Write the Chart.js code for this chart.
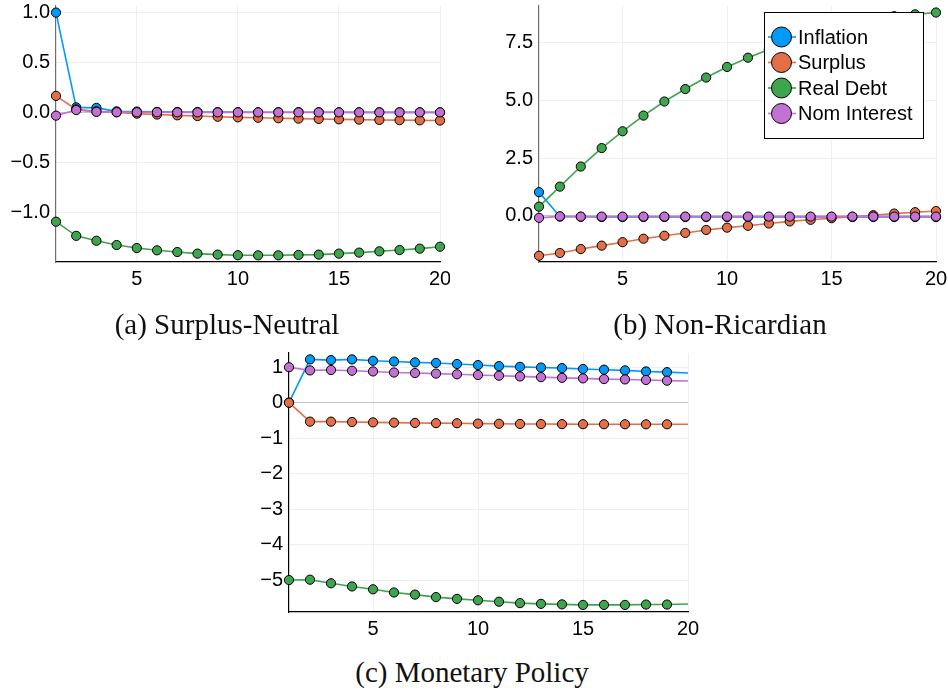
<!DOCTYPE html>
<html>
<head>
<meta charset="utf-8">
<script src="https://cdn.jsdelivr.net/npm/chart.js@4.4.0/dist/chart.umd.min.js"></script>
<style>
  body { margin: 0; background: #fff; }
  #wrap { position: relative; width: 948px; height: 690px; overflow: hidden; }
  canvas { position: absolute; }
  .cap { position: absolute; font-family: "Liberation Serif", serif; font-size: 29px;
         line-height: 29px; text-align: center; color: #111; white-space: nowrap; }
</style>
</head>
<body>
<div id="wrap">
  <canvas id="chartA" width="450" height="300" style="left:0;top:0"></canvas>
  <canvas id="chartB" width="468" height="300" style="left:480px;top:0"></canvas>
  <canvas id="chartC" width="460" height="300" style="left:240px;top:340px"></canvas>
  <div class="cap" style="left:27px;top:310px;width:400px">(a) Surplus-Neutral</div>
  <div class="cap" style="left:520px;top:310px;width:400px">(b) Non-Ricardian</div>
  <div class="cap" style="left:272px;top:658px;width:400px">(c) Monetary Policy</div>
</div>
<script>
const periods = [1, 2, 3, 4, 5, 6, 7, 8, 9, 10, 11, 12, 13, 14, 15, 16, 17, 18, 19, 20];
const seriesNames = ['Inflation', 'Surplus', 'Real Debt', 'Nom Interest'];
const xTicks = [5, 10, 15, 20];

// (a) Surplus-Neutral
const inflationA = [1.0, 0.05, 0.045, 0.01, 0.008, 0.005, 0.004, 0.003, 0.002, 0.002, 0.001, 0.001, 0.001, 0.001, 0.001, 0.0, 0.0, 0.0, 0.0, 0.0];
const surplusA = [0.165, 0.03, 0.01, 0.0, -0.013, -0.022, -0.03, -0.037, -0.044, -0.05, -0.054, -0.059, -0.063, -0.066, -0.07, -0.073, -0.076, -0.078, -0.08, -0.082];
const debtA = [-1.096, -1.238, -1.287, -1.33, -1.36, -1.383, -1.40, -1.416, -1.426, -1.432, -1.433, -1.433, -1.429, -1.426, -1.416, -1.406, -1.393, -1.38, -1.366, -1.347];
const interestA = [-0.033, 0.023, 0.005, 0.002, 0.001, 0.001, 0.0, 0.0, 0.0, 0.0, 0.0, 0.0, 0.0, 0.0, 0.0, 0.0, 0.0, 0.0, 0.0, 0.0];
const yTicksA = [-1.0, -0.5, 0.0, 0.5, 1.0];

// (b) Non-Ricardian
const inflationB = [1.03, -0.03, -0.04, -0.05, -0.05, -0.05, -0.05, -0.05, -0.05, -0.05, -0.05, -0.05, -0.05, -0.05, -0.05, -0.05, -0.05, -0.05, -0.05, -0.05];
const surplusB = [-1.73, -1.61, -1.44, -1.29, -1.14, -0.99, -0.86, -0.74, -0.61, -0.51, -0.43, -0.33, -0.24, -0.17, -0.10, -0.04, 0.03, 0.10, 0.16, 0.21];
const debtB = [0.40, 1.27, 2.14, 2.94, 3.67, 4.35, 4.96, 5.50, 6.00, 6.46, 6.86, 7.22, 7.55, 7.84, 8.10, 8.33, 8.52, 8.66, 8.74, 8.82];
const interestB = [-0.085, -0.02, -0.03, -0.03, -0.03, -0.03, -0.03, -0.03, -0.03, -0.03, -0.03, -0.03, -0.03, -0.03, -0.03, -0.03, -0.03, -0.03, -0.03, -0.03];
const yTicksB = [0.0, 2.5, 5.0, 7.5];

// (c) Monetary Policy
const inflationC = [0.0, 1.22, 1.20, 1.22, 1.18, 1.16, 1.135, 1.12, 1.09, 1.06, 1.03, 1.01, 0.99, 0.975, 0.95, 0.93, 0.91, 0.88, 0.86, 0.835];
const surplusC = [0.0, -0.535, -0.535, -0.545, -0.555, -0.563, -0.572, -0.577, -0.58, -0.59, -0.595, -0.60, -0.603, -0.605, -0.607, -0.608, -0.609, -0.61, -0.61, -0.61];
const debtC = [-5.0, -4.99, -5.09, -5.18, -5.26, -5.35, -5.41, -5.48, -5.53, -5.57, -5.61, -5.65, -5.67, -5.685, -5.70, -5.70, -5.70, -5.69, -5.69, -5.675];
const interestC = [1.0, 0.91, 0.92, 0.90, 0.88, 0.85, 0.835, 0.82, 0.80, 0.78, 0.76, 0.74, 0.72, 0.70, 0.685, 0.665, 0.655, 0.64, 0.62, 0.61];
const yTicksC = [-5, -4, -3, -2, -1, 0, 1];

const colors = ['#009AFA', '#E36F47', '#3EA44E', '#C371D2'];
const tickFont = { family: 'Liberation Sans', size: 20 };

function minusSign(v, digits) {
    return v.toFixed(digits).replace('-', '\u2212');
}

function makeDatasets(values, markerCount) {
    return values.map((vals, i) => ({
        label: seriesNames[i],
        data: vals,
        borderColor: colors[i],
        backgroundColor: colors[i],
        borderWidth: 1.6,
        tension: 0,
        pointRadius: ctx => ctx.dataIndex < markerCount ? 4.6 : 0,
        pointBackgroundColor: colors[i],
        pointBorderColor: '#000',
        pointBorderWidth: 1,
        order: 4 - i,
        clip: false
    }));
}

// legend drawn inside the plot area, Plots.jl style
const insideLegend = {
    id: 'insideLegend',
    afterDraw(chart, args, opts) {
        if (!opts.show) return;
        const c = chart.ctx;
        const x = opts.left, y = opts.top, w = opts.w, h = opts.h;
        c.save();
        c.fillStyle = '#fff';
        c.fillRect(x, y, w, h);
        c.strokeStyle = '#000';
        c.lineWidth = 1;
        c.strokeRect(x + 0.5, y + 0.5, w, h);
        c.font = '20px "Liberation Sans"';
        c.textBaseline = 'middle';
        chart.data.datasets.forEach((ds, i) => {
            const cy = y + 25 + i * 25.5;
            c.strokeStyle = ds.borderColor;
            c.lineWidth = 1.6;
            c.beginPath();
            c.moveTo(x + 4, cy);
            c.lineTo(x + 32, cy);
            c.stroke();
            c.beginPath();
            c.arc(x + 17.5, cy, 10, 0, Math.PI * 2);
            c.fillStyle = ds.backgroundColor;
            c.fill();
            c.strokeStyle = '#000';
            c.lineWidth = 1;
            c.stroke();
            c.fillStyle = '#000';
            c.fillText(ds.label, x + 34, cy + 1);
        });
        c.restore();
    }
};

function makeChart(id, values, yTicks, yMin, yMax, digits, layout, legend, markerCount, yBorder) {
    return new Chart(document.getElementById(id), {
        type: 'line',
        data: { labels: periods, datasets: makeDatasets(values, markerCount) },
        plugins: [insideLegend],
        options: {
            responsive: false,
            animation: false,
            devicePixelRatio: 1,
            layout: { padding: { top: layout.top, right: layout.right, left: 0, bottom: 0 } },
            plugins: {
                legend: { display: false },
                tooltip: { enabled: false },
                insideLegend: legend
            },
            scales: {
                x: {
                    type: 'linear',
                    min: 1,
                    max: 20,
                    afterBuildTicks: s => { s.ticks = xTicks.map(v => ({ value: v })); },
                    afterFit: s => {
                        s.height = layout.xh;
                        s.paddingLeft = 0;
                        s.paddingRight = 0;
                    },
                    ticks: { font: tickFont, color: '#000', padding: 5, maxRotation: 0,
                             callback: v => String(v) },
                    grid: { color: '#efefef', lineWidth: 1, drawTicks: false },
                    border: { color: '#000', width: 1.2 }
                },
                y: {
                    min: yMin,
                    max: yMax,
                    afterBuildTicks: s => { s.ticks = yTicks.map(v => ({ value: v })); },
                    afterFit: s => {
                        s.width = layout.yw;
                        s.paddingTop = 0;
                        s.paddingBottom = 0;
                    },
                    ticks: { font: tickFont, color: '#000', padding: 6,
                             callback: v => minusSign(v, digits) },
                    grid: { color: ctx => ctx.tick && ctx.tick.value === 0 ? '#c4c4c4' : '#efefef',
                            lineWidth: 1, drawTicks: false },
                    border: { color: yBorder, width: 1.2 }
                }
            }
        }
    });
}

makeChart('chartA', [inflationA, surplusA, debtA, interestA], yTicksA, -1.5, 1.07, 1,
    { top: 3, right: 10, xh: 38, yw: 56 }, { show: false }, 20, '#6e6e6e');

makeChart('chartB', [inflationB, surplusB, debtB, interestB], yTicksB, -2.0, 9.12, 1,
    { top: 3, right: 12, xh: 38, yw: 59 },
    { show: true, left: 284, top: 12, w: 159, h: 126 }, 20, '#6e6e6e');

makeChart('chartC', [inflationC, surplusC, debtC, interestC], yTicksC, -5.9, 1.4, 0,
    { top: 13, right: 12, xh: 28, yw: 49 }, { show: false }, 19, '#000');
</script>
</body>
</html>
